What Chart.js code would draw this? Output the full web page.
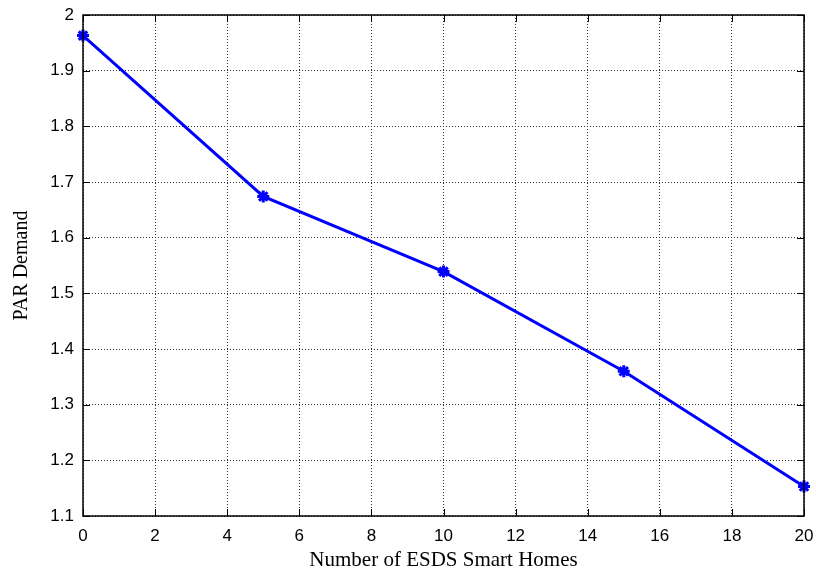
<!DOCTYPE html>
<html lang="en">
<head>
    <meta charset="UTF-8">
    <title>PAR Demand</title>
    <style>
        body {
            margin: 0;
            padding: 0;
            background-color: #fff;
        }
        .chart-container {
            width: 816px;
            height: 575px;
        }
    </style>
</head>
<body>

    <div class="chart-container">
        <canvas id="parChart"></canvas>
    </div>

    <script src="https://cdn.jsdelivr.net/npm/chart.js"></script>
    <script>
        // Data
        const homes = [0, 5, 10, 15, 20];
        const parDemand = [1.963, 1.674, 1.539, 1.36, 1.153];
        const xTicks = [0, 2, 4, 6, 8, 10, 12, 14, 16, 18, 20];
        const yTicks = [1.1, 1.2, 1.3, 1.4, 1.5, 1.6, 1.7, 1.8, 1.9, 2];

        // MATLAB style inward ticks on all four sides + box
        const innerTicks = {
            id: 'innerTicks',
            afterDraw(chart) {
                const { ctx, chartArea: a, scales: { x, y } } = chart;
                const len = 7;
                ctx.save();
                ctx.strokeStyle = '#000';
                ctx.lineWidth = 1;
                ctx.beginPath();
                xTicks.forEach(v => {
                    const px = Math.round(x.getPixelForValue(v)) + 0.5;
                    ctx.moveTo(px, a.bottom); ctx.lineTo(px, a.bottom - len);
                    ctx.moveTo(px, a.top); ctx.lineTo(px, a.top + len);
                });
                yTicks.forEach(v => {
                    const py = Math.round(y.getPixelForValue(v)) + 0.5;
                    ctx.moveTo(a.left, py); ctx.lineTo(a.left + len, py);
                    ctx.moveTo(a.right, py); ctx.lineTo(a.right - len, py);
                });
                ctx.stroke();
                ctx.lineWidth = 1.5;
                ctx.strokeRect(a.left, a.top, a.right - a.left, a.bottom - a.top);
                ctx.restore();
            }
        };

        // keep the plot box fixed, whatever the label sizes
        function fixBox(s, size) {
            if (s.isHorizontal()) s.height = size; else s.width = size;
            s.paddingLeft = 0;
            s.paddingRight = 0;
            s.paddingTop = 0;
            s.paddingBottom = 0;
        }

        const ctx = document.getElementById('parChart').getContext('2d');

        const config = {
            type: 'scatter',
            data: {
                datasets: [{
                    data: homes.map((h, i) => ({ x: h, y: parDemand[i] })),
                    showLine: true,
                    borderColor: '#0000ff',
                    backgroundColor: '#0000ff',
                    borderWidth: 3,
                    pointStyle: 'star',
                    pointRadius: 6,
                    pointBorderWidth: 3,
                    clip: false
                }]
            },
            options: {
                responsive: true,
                maintainAspectRatio: false,
                animation: false,
                layout: {
                    padding: { top: 15, right: 12, left: 0, bottom: 0 }
                },
                plugins: {
                    legend: { display: false },
                    tooltip: { enabled: false }
                },
                scales: {
                    x: {
                        type: 'linear',
                        min: 0,
                        max: 20,
                        afterBuildTicks: s => { s.ticks = xTicks.map(v => ({ value: v })); },
                        afterFit: s => fixBox(s, 59),
                        grid: { color: '#333', lineWidth: 1, drawTicks: false },
                        border: { display: false, dash: [1, 2] },
                        ticks: {
                            color: '#000',
                            padding: 10,
                            maxRotation: 0,
                            font: { family: 'Liberation Sans, Arial', size: 17 }
                        },
                        title: {
                            display: true,
                            text: 'Number of ESDS Smart Homes',
                            color: '#000',
                            padding: { top: 0, bottom: 2 },
                            font: { family: 'Liberation Serif, Times New Roman', size: 21 }
                        }
                    },
                    y: {
                        min: 1.1,
                        max: 2,
                        afterBuildTicks: s => { s.ticks = yTicks.map(v => ({ value: v })); },
                        afterFit: s => fixBox(s, 83),
                        grid: { color: '#333', lineWidth: 1, drawTicks: false },
                        border: { display: false, dash: [1, 2] },
                        ticks: {
                            color: '#000',
                            padding: 9,
                            callback: v => String(Math.round(v * 10) / 10),
                            font: { family: 'Liberation Sans, Arial', size: 17 }
                        },
                        title: {
                            display: true,
                            text: 'PAR Demand',
                            color: '#000',
                            padding: { top: 10, bottom: 0 },
                            font: { family: 'Liberation Serif, Times New Roman', size: 20 }
                        }
                    }
                }
            },
            plugins: [innerTicks]
        };

        const parChart = new Chart(ctx, config);
    </script>

</body>
</html>
